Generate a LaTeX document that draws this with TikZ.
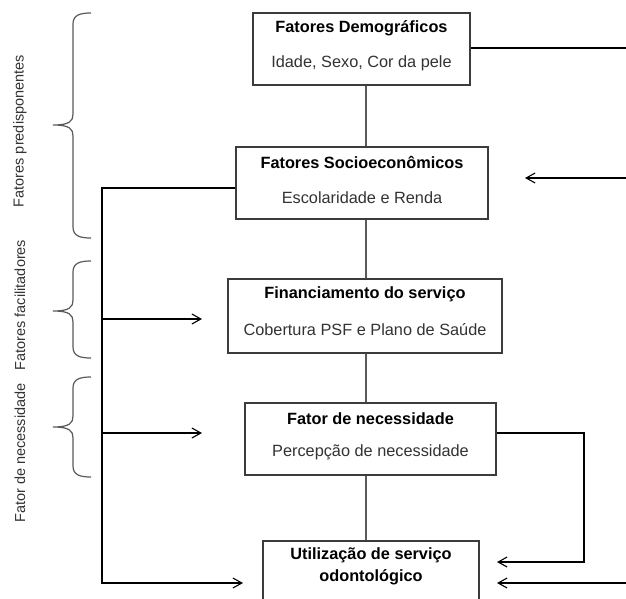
\documentclass[tikz,border=0pt]{standalone}
\usepackage{fontspec}
\setmainfont{Liberation Sans}
\usetikzlibrary{arrows.meta,calc}
\definecolor{boxline}{HTML}{3C3C3C}
\definecolor{conn}{HTML}{5A5A5A}
\definecolor{subtxt}{HTML}{333333}
\begin{document}
\begin{tikzpicture}[x=1pt,y=-1pt,
  boxnode/.style={draw=boxline, line width=1.3pt, rectangle, inner sep=0pt},
  titletext/.style={font=\fontsize{16.3}{19}\selectfont\bfseries, text=black, inner sep=0pt},
  subtext/.style={font=\fontsize{16.3}{19}\selectfont, text=subtxt, inner sep=0pt},
  sidetext/.style={font=\fontsize{14.5}{17}\selectfont, text=subtxt, rotate=90, inner sep=0pt},
  link/.style={draw=conn, line width=1.2pt},
  plainline/.style={draw=black, line width=1.1pt, line join=miter},
  arrowline/.style={draw=black, line width=1.1pt, line join=miter, -{Straight Barb[length=9pt,width=10pt,line width=1.1pt]}},
  bracestyle/.style={draw=conn, line width=1.2pt}]
\useasboundingbox (0,0) rectangle (626,599);
\fill[white] (0,0) rectangle (626,599);
\clip (0,0) rectangle (626,599);

% boxes
\node[boxnode, minimum width=217pt, minimum height=72pt] (b1) at (361.5,49) {};
\node[boxnode, minimum width=252pt, minimum height=72pt] (b2) at (362,183) {};
\node[boxnode, minimum width=274pt, minimum height=74pt] (b3) at (365,316) {};
\node[boxnode, minimum width=251pt, minimum height=72pt] (b4) at (370.5,439) {};
\node[boxnode, minimum width=216pt, minimum height=80pt] (b5) at (371,581) {};

% texts
\node[titletext] (t1) at ($(b1.north)+(0,16)$) {Fatores Demográficos};
\node[subtext] (s1) at ($(b1.north)+(0,51)$) {Idade, Sexo, Cor da pele};
\node[titletext] (t2) at ($(b2.north)+(0,16)$) {Fatores Socioeconômicos};
\node[subtext] (s2) at ($(b2.north)+(0,51)$) {Escolaridade e Renda};
\node[titletext] (t3) at ($(b3.north)+(0,16)$) {Financiamento do serviço};
\node[subtext] (s3) at ($(b3.north)+(0,51)$) {Cobertura PSF e Plano de Saúde};
\node[titletext] (t4) at ($(b4.north)+(0,16)$) {Fator de necessidade};
\node[subtext] (s4) at ($(b4.north)+(0,50)$) {Percepção de necessidade};
\node[titletext] (t5a) at ($(b5.north)+(0,15)$) {Utilização de serviço};
\node[titletext] (t5b) at ($(b5.north)+(0,37)$) {odontológico};

% side labels
\node[sidetext] (l1) at (20,131) {Fatores predisponentes};
\node[sidetext] (l2) at (20,305) {Fatores facilitadores};
\node[sidetext] (l3) at (20,453) {Fator de necessidade};

% braces
\draw[bracestyle] (91,13) .. controls (80,13) and (73,15) .. (73,24) -- (73,114) .. controls (73,121) and (70,125) .. (53,125) .. controls (70,125) and (73,129) .. (73,136) -- (73,227) .. controls (73,236) and (80,238) .. (91,238);
\draw[bracestyle] (91,261) .. controls (80,261) and (73,263) .. (73,272) -- (73,300) .. controls (73,307) and (70,311) .. (53,311) .. controls (70,311) and (73,315) .. (73,322) -- (73,347) .. controls (73,356) and (80,358) .. (91,358);
\draw[bracestyle] (91,377) .. controls (80,377) and (73,379) .. (73,388) -- (73,416) .. controls (73,423) and (70,427) .. (53,427) .. controls (70,427) and (73,431) .. (73,438) -- (73,466) .. controls (73,475) and (80,477) .. (91,477);

% vertical links
\coordinate (spine) at (366,0);
\draw[link] (b1.south -| spine) -- (b2.north -| spine);
\draw[link] (b2.south -| spine) -- (b3.north -| spine);
\draw[link] (b3.south -| spine) -- (b4.north -| spine);
\draw[link] (b4.south -| spine) -- (b5.north -| spine);

% right side
\coordinate (edge) at (626,0);
\draw[plainline] (b1.east |- 0,48) -- (edge |- 0,48);
\coordinate (sIn) at (626,178);
\coordinate (sTip) at (525,178);
\draw[arrowline] (sIn) -- (sTip);
\coordinate (rTop) at (584,433);
\coordinate (rBot) at (584,562);
\coordinate (rTip) at (497,562);
\draw[arrowline] (b4.east |- rTop) -- (rTop) -- (rBot) -- (rTip);
\coordinate (bIn) at (626,583);
\coordinate (bTip) at (497,583);
\draw[arrowline] (bIn) -- (bTip);

% left side
\coordinate (lTop) at (102,188);
\coordinate (lBot) at (102,583);
\coordinate (lTip) at (243,583);
\draw[arrowline] (b2.west |- lTop) -- (lTop) -- (lBot) -- (lTip);
\coordinate (a3s) at (102,319);
\coordinate (a3e) at (202,319);
\draw[arrowline] (a3s) -- (a3e);
\coordinate (a4s) at (102,433);
\coordinate (a4e) at (202,433);
\draw[arrowline] (a4s) -- (a4e);
\end{tikzpicture}
\end{document}
